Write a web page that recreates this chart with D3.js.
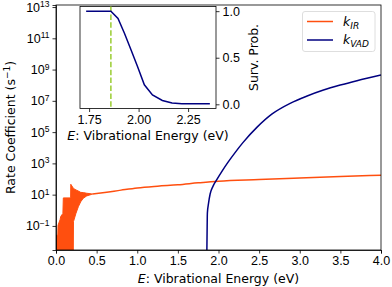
<!DOCTYPE html>
<html>
<head>
<meta charset="utf-8">
<script src="https://cdn.jsdelivr.net/npm/d3@7"></script>
<style>
  body { margin: 0; background: #fff; }
  svg { font-family: "DejaVu Sans", sans-serif; }
  .tick text { font-size: 12.5px; fill: #000; }
  .domain { stroke: #000; stroke-width: 0.8; }
  .tick line { stroke: #000; stroke-width: 0.8; }
</style>
</head>
<body>
<svg width="392" height="287"></svg>
<script>
/* k_IR: noisy low-energy part, upper and lower envelope (0 = down to axis) */
var irNoiseE  = [0, 0.022, 0.025, 0.05, 0.058, 0.085, 0.09, 0.18, 0.182, 0.213, 0.215, 0.246, 0.275, 0.304, 0.336, 0.378, 0.44, 0.45];
var irNoiseHi = [0.025, 0.025, 0.11, 0.25, 0.4, 0.63, 6.2, 6.2, 46, 26, 25, 20, 17, 14, 13.5, 12.3, 11.2, 11];
var irNoiseLo = [0, 0, 0, 0, 0, 0, 0, 0, 0, 0, 0.19, 0.65, 1.7, 3.5, 5.9, 8.3, 10.5, 11];

/* k_IR: smooth part */
var irE = [0.45, 0.6, 0.8, 1.0, 1.25, 1.5, 1.75, 2.0, 2.5, 3.0, 3.5, 4.0];
var irK = [11, 13.8, 19.5, 27, 35, 43, 57, 73, 93, 117, 145, 174];

/* k_VAD */
var vadE = [1.857, 1.8605, 1.863, 1.878, 1.897, 1.933, 1.979, 2.044, 2.118, 2.204, 2.303, 2.472, 2.66, 2.882, 3.091, 3.292, 3.498, 3.704, 4.0];
var vadK = [1e-4, 0.1, 0.65, 2.95, 11, 35, 91, 320, 1200, 4900, 2.2e4, 2e5, 1.45e6, 6.9e6, 2.04e7, 4.9e7, 1.02e8, 1.95e8, 4.5e8];

/* inset: survival probability */
var survE = [1.735, 1.86, 1.896, 1.929, 1.962, 1.995, 2.029, 2.07, 2.12, 2.169, 2.219, 2.29, 2.36];
var survP = [1, 1, 0.922, 0.761, 0.583, 0.404, 0.209, 0.10, 0.041, 0.013, 0.006, 0.005, 0.005];
var threshold = 1.86;

var xTicks = [0, 0.5, 1, 1.5, 2, 2.5, 3, 3.5, 4];
var yExps = [-1, 1, 3, 5, 7, 9, 11, 13];
var insetXTicks = [1.75, 2.0, 2.25];
var insetYTicks = [0, 0.5, 1];

var orange = "#ff4f0f", navy = "#000080", green = "#9acd32";

var svg = d3.select("svg");
var m = {left: 56, right: 381, top: 5, bottom: 250};

var x = d3.scaleLinear().domain([0, 4]).range([m.left, m.right]);
var y = d3.scaleLog().domain([Math.pow(10, -2.54), Math.pow(10, 13.13)]).range([m.bottom, m.top]).clamp(true);
function yv(v) { return v > 0 ? y(v) : m.bottom; }

function supLabel(g, exps) {
  g.selectAll(".tick text").each(function(d, i) {
    var t = d3.select(this).text("");
    t.append("tspan").text("10");
    var e = exps[i];
    t.append("tspan").attr("dy", -4.5).style("font-size", "8.5px")
      .text(e < 0 ? "\u2212" + (-e) : e);
  });
}

// main axes
svg.append("clipPath").attr("id", "mainclip").append("rect")
  .attr("x", m.left).attr("y", m.top).attr("width", m.right - m.left).attr("height", m.bottom - m.top);

var plot = svg.append("g").attr("clip-path", "url(#mainclip)");

var noise = irNoiseE.map(function(e, i) { return {e: e, hi: irNoiseHi[i], lo: irNoiseLo[i]}; });
plot.append("path").datum(noise)
  .attr("fill", orange).attr("stroke", orange).attr("stroke-width", 1)
  .attr("d", d3.area().x(function(d) { return x(d.e); })
    .y0(function(d) { return yv(d.lo); }).y1(function(d) { return yv(d.hi); }));

var line = d3.line().x(function(d) { return x(d[0]); }).y(function(d) { return yv(d[1]); }).curve(d3.curveMonotoneX);

plot.append("path").datum(irE.map(function(e, i) { return [e, irK[i]]; }))
  .attr("fill", "none").attr("stroke", orange).attr("stroke-width", 1.5).attr("d", line);

plot.append("path").datum(vadE.map(function(e, i) { return [e, vadK[i]]; }))
  .attr("fill", "none").attr("stroke", navy).attr("stroke-width", 1.5).attr("d", line);

svg.append("rect").attr("x", m.left).attr("y", m.top).attr("width", m.right - m.left).attr("height", m.bottom - m.top)
  .attr("fill", "none").attr("stroke", "#000").attr("stroke-width", 0.8);

svg.append("g").attr("transform", "translate(0," + m.bottom + ")")
  .call(d3.axisBottom(x).tickValues(xTicks).tickFormat(d3.format(".1f")).tickSizeOuter(0).tickSize(3.5).tickPadding(3));

svg.append("g").attr("transform", "translate(" + m.left + ",0)")
  .call(d3.axisLeft(y).tickValues(yExps.map(function(e) { return Math.pow(10, e); })).tickSizeOuter(0).tickSize(3.5).tickPadding(3))
  .call(supLabel, yExps);

svg.append("text").attr("x", (m.left + m.right) / 2).attr("y", 283).attr("text-anchor", "middle").style("font-size", "12.5px")
  .html('<tspan font-style="italic">E</tspan>: Vibrational Energy (eV)');

svg.append("text").attr("transform", "translate(15," + (m.top + m.bottom) / 2 + ") rotate(-90)")
  .attr("text-anchor", "middle").style("font-size", "12.5px")
  .html('Rate Coefficient (s<tspan dy="-5" font-size="9px">\u22121</tspan><tspan dy="5">)</tspan>');

// legend
var lg = svg.append("g");
lg.append("rect").attr("x", 302.5).attr("y", 11.5).attr("width", 72.5).attr("height", 40).attr("rx", 2.5)
  .attr("fill", "#fff").attr("fill-opacity", 0.8).attr("stroke", "#d6d6d6").attr("stroke-width", 0.8);
[["IR", orange, 21.5], ["VAD", navy, 40]].forEach(function(s) {
  lg.append("line").attr("x1", 307).attr("x2", 333).attr("y1", s[2]).attr("y2", s[2])
    .attr("stroke", s[1]).attr("stroke-width", 1.5);
  lg.append("text").attr("x", 343).attr("y", s[2] + 4).style("font-size", "12.5px").style("font-style", "italic")
    .html('k<tspan dy="3" font-size="9px">' + s[0] + '</tspan>');
});

// inset
var ins = {left: 80, right: 216, top: 6.5, bottom: 108.5};
var xi = d3.scaleLinear().domain([1.704, 2.391]).range([ins.left, ins.right]);
var yi = d3.scaleLinear().domain([-0.045, 1.05]).range([ins.bottom, ins.top]);

svg.append("rect").attr("x", ins.left).attr("y", ins.top).attr("width", ins.right - ins.left).attr("height", ins.bottom - ins.top)
  .attr("fill", "#fff").attr("stroke", "#000").attr("stroke-width", 0.8);

svg.append("line").attr("x1", xi(threshold)).attr("x2", xi(threshold)).attr("y1", ins.top).attr("y2", ins.bottom)
  .attr("stroke", green).attr("stroke-width", 1.5).attr("stroke-dasharray", "5.5,2.4");

svg.append("path").datum(survE.map(function(e, i) { return [e, survP[i]]; }))
  .attr("fill", "none").attr("stroke", navy).attr("stroke-width", 1.5)
  .attr("d", d3.line().x(function(d) { return xi(d[0]); }).y(function(d) { return yi(d[1]); }));

svg.append("g").attr("transform", "translate(0," + ins.bottom + ")")
  .call(d3.axisBottom(xi).tickValues(insetXTicks).tickFormat(d3.format(".2f")).tickSizeOuter(0).tickSize(3.5).tickPadding(3))
  .select(".domain").remove();

svg.append("g").attr("transform", "translate(" + ins.right + ",0)")
  .call(d3.axisRight(yi).tickValues(insetYTicks).tickFormat(d3.format(".1f")).tickSizeOuter(0).tickSize(3.5).tickPadding(3))
  .select(".domain").remove();

svg.append("text").attr("x", (ins.left + ins.right) / 2).attr("y", 140).attr("text-anchor", "middle").style("font-size", "12.5px")
  .html('<tspan font-style="italic">E</tspan>: Vibrational Energy (eV)');

svg.append("text").attr("transform", "translate(258," + (ins.top + ins.bottom) / 2 + ") rotate(-90)")
  .attr("text-anchor", "middle").style("font-size", "12.5px").text("Surv. Prob.");
</script>
</body>
</html>
